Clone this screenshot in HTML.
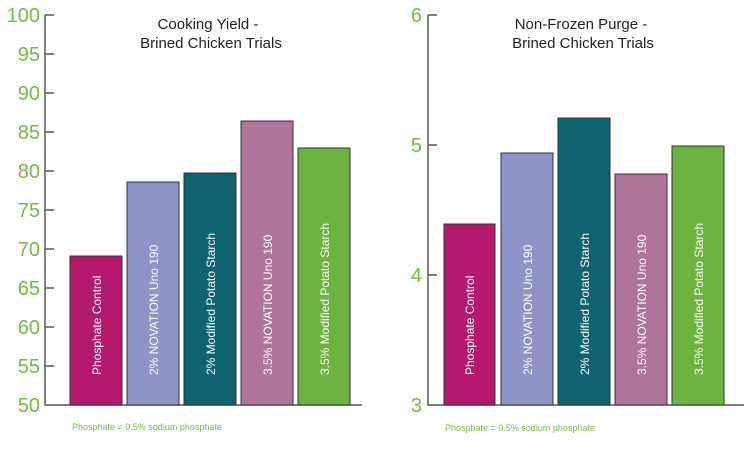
<!DOCTYPE html>
<html><head><style>body{margin:0;background:#fff}</style></head><body>
<svg width="750" height="445" xmlns="http://www.w3.org/2000/svg" font-family="Liberation Sans, sans-serif">
<g stroke="#555" stroke-width="1.5" fill="none">
<path d="M45,15 V405 H362"/>
<path d="M428,15 V405 H744"/>
</g>
<g stroke="#555" stroke-width="1.5">
<line x1="45" y1="15" x2="54" y2="15"/><line x1="45" y1="54" x2="54" y2="54"/><line x1="45" y1="93" x2="54" y2="93"/><line x1="45" y1="132" x2="54" y2="132"/><line x1="45" y1="171" x2="54" y2="171"/><line x1="45" y1="210" x2="54" y2="210"/><line x1="45" y1="249" x2="54" y2="249"/><line x1="45" y1="288" x2="54" y2="288"/><line x1="45" y1="327" x2="54" y2="327"/><line x1="45" y1="366" x2="54" y2="366"/>
<line x1="428" y1="15" x2="437" y2="15"/><line x1="428" y1="145" x2="437" y2="145"/><line x1="428" y1="275" x2="437" y2="275"/>
</g>
<g fill="#7ab648" font-size="20" text-anchor="end">
<text x="40" y="22">100</text><text x="40" y="61">95</text><text x="40" y="100">90</text><text x="40" y="139">85</text><text x="40" y="178">80</text><text x="40" y="217">75</text><text x="40" y="256">70</text><text x="40" y="295">65</text><text x="40" y="334">60</text><text x="40" y="373">55</text><text x="40" y="412">50</text>
<text x="422" y="22">6</text><text x="422" y="152">5</text><text x="422" y="282">4</text><text x="422" y="412">3</text>
</g>
<g stroke="#333" stroke-width="1">
<rect x="70" y="256" width="52" height="149" fill="#b5196f"/>
<rect x="127" y="182" width="52" height="223" fill="#8f93c8"/>
<rect x="184" y="173" width="52" height="232" fill="#0f6370"/>
<rect x="241" y="121" width="52" height="284" fill="#b07399"/>
<rect x="298" y="148" width="52" height="257" fill="#6db33f"/>
<rect x="444" y="224" width="51" height="181" fill="#b5196f"/>
<rect x="501" y="153" width="52" height="252" fill="#8f93c8"/>
<rect x="558" y="118" width="52" height="287" fill="#0f6370"/>
<rect x="615" y="174" width="52" height="231" fill="#b07399"/>
<rect x="672" y="146" width="52" height="259" fill="#6db33f"/>
</g>
<g fill="#fff" font-size="12">
<text transform="translate(101,375) rotate(-90)">Phosphate Control</text>
<text transform="translate(158,375) rotate(-90)">2% NOVATION Uno 190</text>
<text transform="translate(215,375) rotate(-90)">2% Modified Potato Starch</text>
<text transform="translate(272,375) rotate(-90)">3.5% NOVATION Uno 190</text>
<text transform="translate(329,375) rotate(-90)">3.5% Modified Potato Starch</text>
<text transform="translate(474,375) rotate(-90)">Phosphate Control</text>
<text transform="translate(532,375) rotate(-90)">2% NOVATION Uno 190</text>
<text transform="translate(589,375) rotate(-90)">2% Modified Potato Starch</text>
<text transform="translate(646,375) rotate(-90)">3.5% NOVATION Uno 190</text>
<text transform="translate(703,375) rotate(-90)">3.5% Modified Potato Starch</text>
</g>
<g fill="#222" font-size="15" text-anchor="middle">
<text x="208" y="29">Cooking Yield -</text><text x="211" y="48">Brined Chicken Trials</text>
<text x="581" y="29">Non-Frozen Purge -</text><text x="583" y="48">Brined Chicken Trials</text>
</g>
<g fill="#7ab648" font-size="9">
<text x="72" y="430">Phosphate = 0.5% sodium phosphate</text>
<text x="445" y="431">Phosphate = 0.5% sodium phosphate</text>
</g>
</svg>
</body></html>
